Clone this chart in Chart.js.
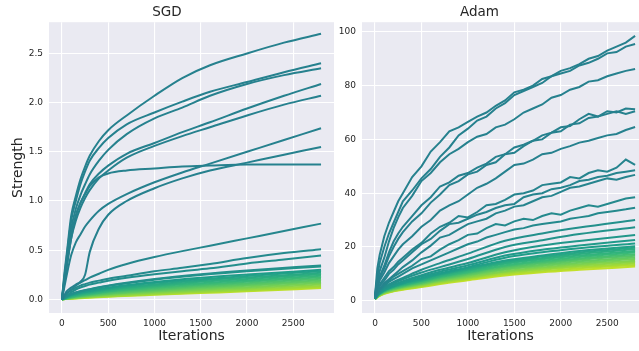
<!DOCTYPE html>
<html><head><meta charset="utf-8">
<script src="https://cdn.jsdelivr.net/npm/chart.js@4.4.1/dist/chart.umd.min.js"></script>
<style>
html,body{margin:0;padding:0;background:#fff;overflow:hidden;width:639px;height:351px;}
#c1{position:absolute;left:0;top:0;}
#c2{position:absolute;left:320px;top:0;}
</style></head><body>
<canvas id="c1" width="339" height="351"></canvas>
<canvas id="c2" width="319" height="351"></canvas>
<script>
// ---------- tick labels ----------
const xTicks = [0, 500, 1000, 1500, 2000, 2500];
const xTickLabels = ["0", "500", "1000", "1500", "2000", "2500"];
const sgdYTicks = [0, 0.5, 1.0, 1.5, 2.0, 2.5];
const sgdYTickLabels = ["0.0", "0.5", "1.0", "1.5", "2.0", "2.5"];
const adamYTicks = [0, 20, 40, 60, 80, 100];
const adamYTickLabels = ["0", "20", "40", "60", "80", "100"];

// ---------- SGD ----------
const sgdIters = [0,25,50,100,150,200,250,300,400,500,700,1000,1300,1600,2000,2400,2800];
const sgdS1  = [0,0.25,0.45,0.85,1.05,1.22,1.35,1.46,1.61,1.72,1.87,2.07,2.25,2.38,2.5,2.61,2.7];
const sgdS2  = [0,0.22,0.42,0.8,1.0,1.17,1.3,1.41,1.54,1.64,1.78,1.9,2.01,2.11,2.21,2.31,2.4];
const sgdS3  = [0,0.2,0.38,0.72,0.92,1.06,1.17,1.27,1.41,1.52,1.68,1.84,1.95,2.07,2.19,2.28,2.35];
const sgdS4  = [0,0.18,0.35,0.66,0.85,0.98,1.08,1.17,1.28,1.36,1.48,1.59,1.7,1.8,1.94,2.07,2.19];
const sgdS5  = [0,0.16,0.32,0.62,0.8,0.93,1.03,1.11,1.23,1.31,1.44,1.56,1.66,1.75,1.87,1.98,2.07];
const sgdS6  = [0,0.12,0.24,0.45,0.58,0.66,0.74,0.8,0.9,0.97,1.07,1.19,1.29,1.38,1.5,1.62,1.74];
const sgdS7  = [0,0.04,0.08,0.12,0.15,0.18,0.25,0.48,0.72,0.86,1.0,1.13,1.23,1.31,1.39,1.47,1.55];
const sgdS8  = [0,0.17,0.33,0.62,0.85,0.98,1.07,1.15,1.24,1.28,1.31,1.33,1.35,1.36,1.37,1.37,1.37];
const sgdS9  = [0,0.03,0.06,0.1,0.14,0.17,0.195,0.22,0.26,0.3,0.36,0.43,0.49,0.545,0.62,0.695,0.77];
const sgdS10 = [0,0.03,0.06,0.09,0.12,0.14,0.155,0.17,0.19,0.21,0.24,0.285,0.32,0.36,0.42,0.47,0.51];
const sgdS11 = [0,0.02,0.04,0.07,0.1,0.12,0.135,0.15,0.17,0.19,0.22,0.255,0.285,0.315,0.365,0.405,0.445];

const sgdBundleIters = [0,100,300,600,1000,1500,2000,2800];
const sgdB1  = [0,0.055,0.104,0.155,0.207,0.255,0.293,0.345];
const sgdB2  = [0,0.052,0.1,0.15,0.2,0.247,0.285,0.335];
const sgdB3  = [0,0.045,0.087,0.132,0.177,0.219,0.252,0.30];
const sgdB4  = [0,0.04,0.08,0.123,0.165,0.205,0.237,0.285];
const sgdB5  = [0,0.035,0.073,0.113,0.151,0.192,0.221,0.27];
const sgdB6  = [0,0.031,0.066,0.105,0.14,0.179,0.207,0.255];
const sgdB7  = [0,0.026,0.06,0.094,0.13,0.163,0.192,0.24];
const sgdB8  = [0,0.023,0.052,0.086,0.117,0.151,0.178,0.225];
const sgdB9  = [0,0.019,0.046,0.076,0.105,0.137,0.164,0.21];
const sgdB10 = [0,0.018,0.041,0.068,0.096,0.125,0.15,0.195];
const sgdB11 = [0,0.014,0.036,0.061,0.085,0.112,0.137,0.18];
const sgdB12 = [0,0.013,0.031,0.053,0.076,0.101,0.124,0.165];
const sgdB13 = [0,0.011,0.027,0.047,0.066,0.09,0.111,0.15];
const sgdB14 = [0,0.009,0.023,0.039,0.058,0.078,0.097,0.135];
const sgdB15 = [0,0.008,0.02,0.035,0.051,0.071,0.089,0.125];
const sgdB16 = [0,0.007,0.017,0.031,0.046,0.064,0.081,0.115];

// ---------- Adam ----------
const adamIters = [0,25,50,100,150,200,250,300,400,500,600,700,800,900,1000,1100,1200,1300,1400,1500,1600,1700,1800,1900,2000,2100,2200,2300,2400,2500,2600,2700,2800];
const adamA1  = [2,12,17,24,29,33,37,40,46,50,55.5,59,63,64.5,66.5,68.5,70,72.5,74.5,77.5,78.5,80,82.5,83.5,85.5,86.5,88,90,91,93,94.5,96,98.5];
const adamA2  = [2,9,14,20,25,29,33,37,41,45.5,49,53.5,57,61.5,64,67,68.5,71.5,73.5,76.5,78,79.5,81,83.5,84.5,85.5,87.5,88.5,90,92,92.5,94.5,95.5];
const adamA3  = [2,7,11,16,22,27,31,34.5,39,44.5,47.5,51.5,54.5,56.5,59,61,62,64.5,65.5,67.5,70,71.5,73,75.5,76.5,78.5,79.5,81.5,82,83.5,84.5,85.5,86.2];
const adamA4  = [1.5,6,9,13,18,22,25,27.5,31.5,35.5,38.5,42.5,44,46.5,47.5,49.5,51,53.5,54.5,57,58,59.5,61.5,62.5,64.5,65,67.5,69.5,68.5,70.5,70,71.5,71.2];
const adamA5  = [1.5,5.5,8.5,12,16.5,20,23,25.5,29.5,32.5,36.5,39.5,43,44.5,47,48,50.5,51.5,54.5,55,57.5,59.5,60,62.5,63,65.5,66,68,68.5,69.5,70.5,69.5,70.5];
const adamA6  = [1.5,5,7.5,10.5,14,16.5,19,21,24,27.5,30,33.5,35.5,37,39.5,42,43.5,45.5,48,50.5,51,52.5,54.5,55,56.5,57.5,58.8,59.5,60.5,61.5,62,63.5,64.6];
const adamA7  = [1,4,6,8.5,11,12.5,14.5,16,19,21.5,25,27.5,29,31.5,31,33,35.5,36,37.5,39.5,40,41,43,43.5,44,46,45.5,47.5,48.5,48,49.5,52.5,50.5];
const adamA8  = [1,3.5,5.5,7.5,10,11.5,13.5,15,18,21,23,26,28.5,29,30.5,32,33,34.5,35.5,36,38.5,39.5,40,41.5,42,43,44.5,45,46,46.5,47.5,48,48.5];
const adamA9  = [1,3,4.5,6.5,8,9.5,11,12.5,15,18,20.5,23.5,24.5,26.5,28.5,29.5,30.5,32.5,33.5,35,35.5,37,38.5,39,40.5,42,42.5,43.5,44.5,45.5,45,46,46.8];
const adamA10 = [1,3,4.5,6,7.5,9,10,11,13,15.5,16.5,19,21,22.5,24.5,25,27,28.5,28,29.5,30.5,30,31.5,32.5,32,33.5,34.5,35.5,35,36,37,38,38.5];
const adamA11 = [1,2.5,4,5.5,7,8,9,10,12,13.5,15,16.5,18,19.5,21,22,23.5,24.5,25.5,26.5,27,28,28.5,29,29.5,30.5,31,31.5,32.5,33,33.5,34,34.6];

const adamBundleIters = [0,25,50,100,200,300,500,700,1000,1400,1800,2200,2800];
const adamA12 = [0.8,2.3,3.5,5,7,8.5,11.5,14,17.5,22.3,25,27.2,30];
const adamA13 = [0.8,2.2,3.3,4.6,6.5,8,10.5,12.5,15.5,20,22.5,24.8,27.3];
const adamA14 = [0.7,2,3,4.3,6,7.3,9.5,11.5,14,18,20.5,22.2,24.4];
const adamA15 = [0.7,1.9,2.9,4.1,5.7,7,9,10.8,13.2,16.8,19,20.5,22.6];
const adamA16 = [0.7,1.8,2.8,3.9,5.4,6.6,8.5,10.2,12.5,16,18,19.5,21.3];
const adamB1  = [0.8,2.0,2.8,4.1,5.5,6.5,8.1,9.9,12.2,15.0,16.8,18.5,20.3];
const adamB2  = [0.8,2.0,2.8,3.9,5.3,6.3,7.9,9.7,11.8,14.6,16.4,17.9,19.7];
const adamB3  = [0.8,1.9,2.7,3.8,5.2,6.1,7.6,9.4,11.5,14.1,15.9,17.4,19.1];
const adamB4  = [0.7,1.9,2.6,3.7,5.0,5.9,7.4,9.1,11.1,13.7,15.4,16.8,18.5];
const adamB5  = [0.7,1.8,2.5,3.6,4.8,5.7,7.2,8.8,10.7,13.2,14.9,16.3,17.9];
const adamB6  = [0.7,1.7,2.4,3.5,4.7,5.5,6.9,8.5,10.4,12.8,14.4,15.7,17.3];
const adamB7  = [0.7,1.7,2.3,3.3,4.5,5.3,6.7,8.2,10.0,12.4,13.9,15.2,16.7];
const adamB8  = [0.6,1.6,2.3,3.2,4.3,5.2,6.4,7.9,9.7,11.9,13.4,14.7,16.1];
const adamB9  = [0.6,1.6,2.2,3.1,4.2,5.0,6.2,7.6,9.3,11.5,12.9,14.1,15.5];
const adamB10 = [0.6,1.5,2.1,3.0,4.0,4.8,6.0,7.3,8.9,11.0,12.4,13.6,14.9];
const adamB11 = [0.6,1.4,2.0,2.9,3.9,4.6,5.8,7.1,8.6,10.7,12.0,13.1,14.4];
const adamB12 = [0.6,1.4,1.9,2.8,3.7,4.4,5.5,6.8,8.3,10.2,11.5,12.6,13.8];
const adamB13 = [0.5,1.3,1.9,2.7,3.6,4.3,5.3,6.5,8.0,9.8,11.0,12.1,13.3];
const adamB14 = [0.5,1.3,1.8,2.6,3.5,4.1,5.1,6.2,7.6,9.4,10.6,11.5,12.7];

// ---------- colours (viridis) ----------
const vStops = [[0.333,[49,104,142]],[0.444,[38,130,142]],[0.556,[31,158,137]],[0.667,[53,183,121]],[0.778,[110,206,88]],[0.889,[181,222,43]],[1.0,[253,231,37]]];
function viridis(t){
  for(let i=0;i<vStops.length-1;i++){
    const [a,ca]=vStops[i],[b,cb]=vStops[i+1];
    if(t<=b){const f=Math.max(0,(t-a)/(b-a));
      return 'rgb('+ca.map((c,k)=>Math.round(c+(cb[k]-c)*f)).join(',')+')';}
  }
  return 'rgb(253,231,37)';
}
function ds(xs, ys, t, smooth){
  return {data: xs.map((x,i)=>({x:x,y:ys[i]})), borderColor: viridis(t), borderWidth: 2,
    pointRadius: 0, fill: false, tension: smooth?0.4:0, cubicInterpolationMode: smooth?'monotone':'default'};
}

const sgdTop = [sgdS1,sgdS2,sgdS3,sgdS4,sgdS5,sgdS6,sgdS7,sgdS8];
const sgdMid = [sgdS9,sgdS10,sgdS11];
const sgdBundle = [sgdB1,sgdB2,sgdB3,sgdB4,sgdB5,sgdB6,sgdB7,sgdB8,sgdB9,sgdB10,sgdB11,sgdB12,sgdB13,sgdB14,sgdB15,sgdB16];
const sgdSets = [];
sgdTop.forEach(s=>sgdSets.push(ds(sgdIters,s,0.44,true)));
sgdMid.forEach((s,i)=>sgdSets.push(ds(sgdIters,s,0.46+0.015*i,true)));
sgdBundle.forEach((s,i)=>sgdSets.push(ds(sgdBundleIters,s,0.50+i*(0.90-0.50)/15,true)));

const adamTop = [adamA1,adamA2,adamA3,adamA4,adamA5,adamA6,adamA7,adamA8,adamA9,adamA10,adamA11];
const adamLow = [adamA12,adamA13,adamA14,adamA15,adamA16];
const adamBundle = [adamB1,adamB2,adamB3,adamB4,adamB5,adamB6,adamB7,adamB8,adamB9,adamB10,adamB11,adamB12,adamB13,adamB14];
const adamSets = [];
adamTop.forEach((s,i)=>adamSets.push(ds(adamIters,s,i<6?0.44:(i<9?0.45:0.47),false)));
adamLow.forEach((s,i)=>adamSets.push(ds(adamBundleIters,s,0.50+0.013*i,true)));
adamBundle.forEach((s,i)=>adamSets.push(ds(adamBundleIters,s,0.57+i*(0.91-0.57)/13,true)));

const bgPlugin = {id:'bg', beforeDraw(chart){const {ctx, chartArea:a}=chart; ctx.save(); ctx.fillStyle='#EAEAF2'; ctx.fillRect(a.left,a.top,a.right-a.left,a.bottom-a.top); ctx.restore();}};

const FONT = "'DejaVu Sans', sans-serif";
const TXT = '#262626';

function makeChart(id, title, datasets, xmin, xmax, ymin, ymax, yTicks, yLabels, yWidth, yTitle, padRight){
  return new Chart(document.getElementById(id), {
    type: 'line',
    data: {datasets: datasets},
    plugins: [bgPlugin],
    options: {
      responsive: false, animation: false, events: [],
      layout: {padding: {left: 0, right: padRight, top: 0, bottom: 0}},
      plugins: {
        legend: {display: false}, tooltip: {enabled: false},
        title: {display: true, text: title, color: TXT, font: {family: FONT, size: 13.5, weight: 'normal'}, padding: {top: 4, bottom: 2}}
      },
      scales: {
        x: {type: 'linear', min: xmin, max: xmax,
          afterBuildTicks: s => { s.ticks = xTicks.map(v => ({value: v})); },
          afterFit: s => { s.height = 38; },
          grid: {color: '#ffffff', lineWidth: 1.1, drawTicks: false},
          border: {display: false},
          ticks: {color: TXT, font: {family: FONT, size: 9}, padding: 5, maxRotation: 0, autoSkip: false,
            callback: (v, i) => xTickLabels[i]},
          title: {display: true, text: 'Iterations', color: TXT, font: {family: FONT, size: 14}, padding: {top: 0, bottom: 5.9}}
        },
        y: {type: 'linear', min: ymin, max: ymax,
          afterBuildTicks: s => { s.ticks = yTicks.map(v => ({value: v})); },
          afterFit: s => { s.width = yWidth; },
          grid: {color: '#ffffff', lineWidth: 1.1, drawTicks: false},
          border: {display: false},
          ticks: {color: TXT, font: {family: FONT, size: 9}, padding: 6, autoSkip: false,
            callback: (v, i) => yLabels[i]},
          title: {display: !!yTitle, text: yTitle || '', color: TXT, font: {family: FONT, size: 14}, padding: {top: 9.6, bottom: 0}}
        }
      }
    }
  });
}

makeChart('c1', 'SGD', sgdSets, -140, 2940, -0.139, 2.818, sgdYTicks, sgdYTickLabels, 49, 'Strength', 5);
makeChart('c2', 'Adam', adamSets, -140, 2842, -4.57, 103.6, adamYTicks, adamYTickLabels, 42, null, 0);
</script></body></html>
